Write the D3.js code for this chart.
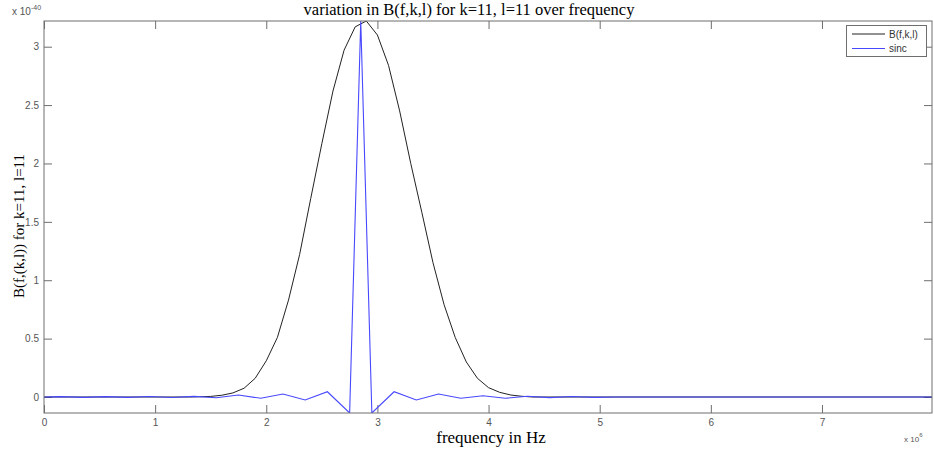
<!DOCTYPE html>
<html><head><meta charset="utf-8">
<script src="https://cdn.jsdelivr.net/npm/d3@7"></script>
<style>body{margin:0;background:#fff}svg{display:block}</style>
</head><body>
<script>
// frequency in units of 1e6 Hz, amplitude in units of 1e-40
const bFreq = [0, 1.3, 1.4, 1.5, 1.6, 1.7, 1.8, 1.9, 2.0, 2.1, 2.2, 2.3, 2.4, 2.5, 2.6, 2.7, 2.8, 2.9, 3.0, 3.1, 3.2, 3.3, 3.4, 3.5, 3.6, 3.7, 3.8, 3.9, 4.0, 4.1, 4.2, 4.3, 4.4, 8.0];
const bVals = [0, 0, 0.002, 0.005, 0.015, 0.035, 0.075, 0.16, 0.31, 0.51, 0.83, 1.22, 1.70, 2.17, 2.62, 2.97, 3.17, 3.22, 3.10, 2.84, 2.45, 2.00, 1.58, 1.15, 0.79, 0.51, 0.30, 0.16, 0.08, 0.04, 0.017, 0.006, 0, 0];
const sFreq = [0, 0.15, 0.35, 0.55, 0.75, 0.95, 1.15, 1.35, 1.55, 1.75, 1.95, 2.15, 2.35, 2.55, 2.75, 2.85, 2.95, 3.15, 3.35, 3.55, 3.75, 3.95, 4.15, 4.35, 4.55, 4.75, 4.95, 5.15, 8.0];
const sVals = [0, 0.003, -0.003, 0.003, -0.003, 0.004, -0.004, 0.005, -0.007, 0.017, -0.011, 0.026, -0.026, 0.045, -0.137, 3.22, -0.137, 0.045, -0.026, 0.026, -0.011, 0.011, -0.011, 0.007, -0.005, 0.004, -0.003, 0, 0];
const xTicks = [0, 1, 2, 3, 4, 5, 6, 7];
const yTicks = [0, 0.5, 1, 1.5, 2, 2.5, 3];
const legendLabels = ["B(f,k,l)", "sinc"];
const titleText = "variation in B(f,k,l) for k=11, l=11 over frequency";
const xLabel = "frequency in Hz";
const yLabel = "B(f,(k,l)) for k=11, l=11";

const W = 934, H = 452;
const m = {l: 44, r: 2, t: 21, b: 39};
const svg = d3.select("body").append("svg").attr("width", W).attr("height", H);
const x = d3.scaleLinear().domain([0, 7.99]).range([m.l, W - m.r]);
const y = d3.scaleLinear().domain([-0.137, 3.22]).range([H - m.b, m.t]);
const axCol = "#6e6e6e", txtCol = "#555";
const sans = "'Liberation Sans', Arial, sans-serif", serif = "'Liberation Serif', 'Times New Roman', serif";
const blue = "#4848ff";

const tl = 8;
function styleAxis(g) {
  g.select(".domain").remove();
  g.selectAll("line").attr("stroke", axCol);
  g.selectAll("text").attr("fill", txtCol).style("font-family", sans).style("font-size", "10px");
}
svg.append("g").attr("transform", `translate(0,${H - m.b})`)
  .call(d3.axisBottom(x).tickValues(xTicks).tickSizeInner(-tl).tickSizeOuter(0).tickPadding(6).tickFormat(d3.format("d")))
  .call(styleAxis);
svg.append("g").attr("transform", `translate(0,${m.t})`)
  .call(d3.axisTop(x).tickValues(xTicks).tickSizeInner(-tl).tickSizeOuter(0).tickFormat(""))
  .call(styleAxis);
svg.append("g").attr("transform", `translate(${m.l},0)`)
  .call(d3.axisLeft(y).tickValues(yTicks).tickSizeInner(-tl).tickSizeOuter(0).tickPadding(5).tickFormat(d => d))
  .call(styleAxis);
svg.append("g").attr("transform", `translate(${W - m.r},0)`)
  .call(d3.axisRight(y).tickValues(yTicks).tickSizeInner(-tl).tickSizeOuter(0).tickFormat(""))
  .call(styleAxis);

svg.append("clipPath").attr("id", "c").append("rect")
  .attr("x", m.l).attr("y", m.t).attr("width", W - m.l - m.r).attr("height", H - m.t - m.b);
const line = d3.line().x(d => x(d[0])).y(d => y(d[1]));
svg.append("path").datum(bFreq.map((f, i) => [f, bVals[i]]))
  .attr("d", line).attr("fill", "none").attr("stroke", "#222").attr("stroke-width", 1).attr("clip-path", "url(#c)");
svg.append("path").datum(sFreq.map((f, i) => [f, sVals[i]]))
  .attr("d", line).attr("fill", "none").attr("stroke", blue).attr("stroke-width", 1.1).attr("clip-path", "url(#c)");

// frame
svg.append("rect").attr("x", m.l).attr("y", m.t).attr("width", W - m.l - m.r).attr("height", H - m.t - m.b)
  .attr("fill", "none").attr("stroke", axCol).attr("stroke-width", 1);

// exponents
const e1 = svg.append("text").attr("x", 12).attr("y", 15).attr("fill", txtCol).style("font-family", sans).style("font-size", "10px");
e1.append("tspan").text("x 10");
e1.append("tspan").attr("dy", -5).style("font-size", "7px").text("-40");
const e2 = svg.append("text").attr("x", 904).attr("y", 442).attr("fill", txtCol).style("font-family", sans).style("font-size", "8px");
e2.append("tspan").text("x 10");
e2.append("tspan").attr("dy", -5).style("font-size", "6px").text("6");

// title and labels
svg.append("text").attr("x", 469).attr("y", 15).attr("text-anchor", "middle").style("font-family", serif).style("font-size", "16.5px").attr("fill", "#000").text(titleText);
svg.append("text").attr("x", 491).attr("y", 443).attr("text-anchor", "middle").style("font-family", serif).style("font-size", "17px").attr("fill", "#000").text(xLabel);
svg.append("text").attr("transform", "translate(24,226) rotate(-90)").attr("text-anchor", "middle").style("font-family", serif).style("font-size", "15px").attr("fill", "#000").text(yLabel);

// legend
const lg = svg.append("g");
lg.append("rect").attr("x", 846.5).attr("y", 25.5).attr("width", 80).attr("height", 31).attr("fill", "#fff").attr("stroke", axCol);
const lCols = ["#222", blue];
legendLabels.forEach((t, i) => {
  const yy = 34 + i * 14.5;
  lg.append("line").attr("x1", 852).attr("x2", 885).attr("y1", yy).attr("y2", yy).attr("stroke", lCols[i]).attr("stroke-width", 1);
  lg.append("text").attr("x", 889).attr("y", yy + 3.5).style("font-family", sans).style("font-size", "10px").attr("fill", "#333").text(t);
});
</script>
</body></html>
